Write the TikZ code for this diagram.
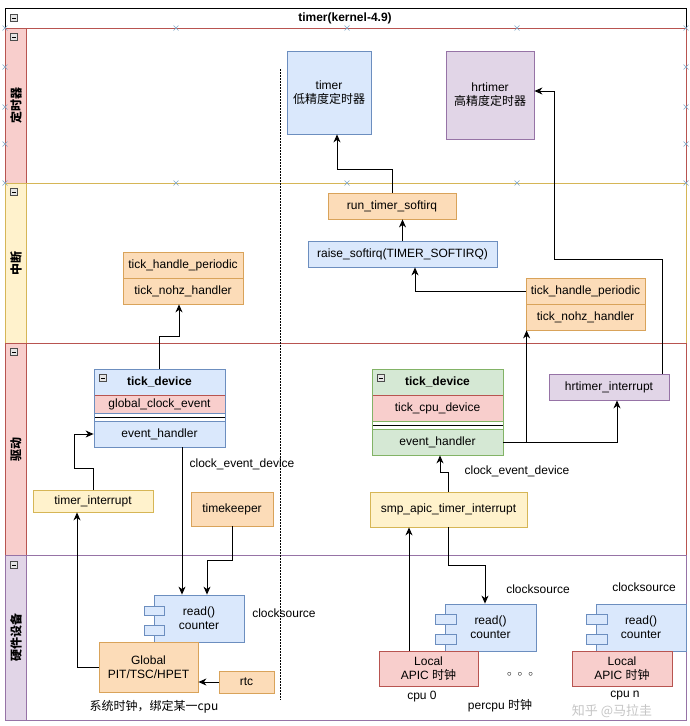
\documentclass[tikz,border=0pt]{standalone}
\usepackage{fontspec}
\setmainfont{Liberation Sans}
\newfontfamily\cjk{Noto Sans CJK SC}
\usetikzlibrary{arrows.meta}
\definecolor{pinkF}{HTML}{F8CECC}\definecolor{pinkS}{HTML}{B85450}
\definecolor{yelF}{HTML}{FFF2CC}\definecolor{yelS}{HTML}{D6B656}
\definecolor{purF}{HTML}{E1D5E7}\definecolor{purS}{HTML}{9673A6}
\definecolor{bluF}{HTML}{DAE8FC}\definecolor{bluS}{HTML}{6C8EBF}
\definecolor{grnF}{HTML}{D5E8D4}\definecolor{grnS}{HTML}{82B366}
\definecolor{orgF}{HTML}{FCDCB8}\definecolor{orgS}{HTML}{D9A35A}
\definecolor{selX}{HTML}{7FA8C8}
\newcommand\mnus[2]{\draw[gray!60!black, fill=gray!20, line width=0.4pt] (#1-3.5,#2-3.5) rectangle (#1+3.5,#2+3.5); \draw[line width=0.6pt] (#1-2,#2) -- (#1+2,#2);}
\newcommand\selx[2]{\draw[selX, line width=0.5pt] (#1-2.5,#2-2.5) -- (#1+2.5,#2+2.5) (#1-2.5,#2+2.5) -- (#1+2.5,#2-2.5);}
\tikzset{
  fnt/.style={font=\fontsize{12}{14}\selectfont},
  bfnt/.style={font=\fontsize{12}{14}\selectfont\bfseries},
  base/.style={draw, line width=0.8pt, inner sep=0pt, align=center, fnt},
  bluebox/.style={base, fill=bluF, draw=bluS},
  pinkbox/.style={base, fill=pinkF, draw=pinkS},
  yelbox/.style={base, fill=yelF, draw=yelS},
  purbox/.style={base, fill=purF, draw=purS},
  grnbox/.style={base, fill=grnF, draw=grnS},
  orgbox/.style={base, fill=orgF, draw=orgS},
  txt/.style={inner sep=0pt, align=center, fnt},
  lanelab/.style={inner sep=0pt, rotate=90, font=\fontsize{12}{14}\selectfont\cjk\bfseries},
  arr/.style={line width=1pt, -{Stealth[length=8pt,width=7pt,inset=2.5pt]}},
}
\begin{document}
\begin{tikzpicture}[x=1pt,y=-1pt]
\useasboundingbox (0,0) rectangle (690,726);
\fill[white] (0,0) rectangle (690,726);
% pool
\draw[black, line width=1pt] (5,8) rectangle (686,720);
\node[bfnt, inner sep=0pt] (title) at (345,18) {timer(kernel-4.9)};
\mnus{14}{18}
% lanes
\fill[pinkF] (5,28) rectangle (26,183);
\draw[pinkS, line width=0.8pt] (5,28) rectangle (686,183) (26,28) -- (26,183);
\fill[yelF] (5,183) rectangle (26,343);
\draw[yelS, line width=0.8pt] (5,183) rectangle (686,343) (26,183) -- (26,343);
\fill[pinkF] (5,343) rectangle (26,555);
\draw[pinkS, line width=0.8pt] (5,343) rectangle (686,555) (26,343) -- (26,555);
\fill[purF] (5,555) rectangle (26,720);
\draw[purS, line width=0.8pt] (5,555) rectangle (686,720) (26,555) -- (26,720);
\node[lanelab] (l1) at (16,105) {定时器};
\node[lanelab] (l2) at (16,263) {中断};
\node[lanelab] (l3) at (16,449) {驱动};
\node[lanelab] (l4) at (16,637) {硬件设备};
\mnus{14}{37}\mnus{14}{192}\mnus{14}{352}\mnus{14}{565}
% selection marks
\selx{5}{28}\selx{176}{28}\selx{347}{28}\selx{517}{28}\selx{686}{28}
\selx{5}{67}\selx{5}{107}\selx{5}{144}\selx{5}{183}
\selx{686}{67}\selx{686}{107}\selx{686}{144}\selx{686}{183}
\selx{176}{183}\selx{347}{183}\selx{517}{183}
% dotted divider
\draw[line width=0.8pt, dash pattern=on 1.5pt off 1.5pt] (280,69) -- (280,700);
% timers
\node[bluebox, minimum width=84pt, minimum height=83pt] (timer) at (329,92.5) {timer\\{\cjk 低精度定时器}};
\node[purbox, minimum width=88pt, minimum height=88pt] (hrtimer) at (490,95) {hrtimer\\{\cjk 高精度定时器}};
% interrupt lane
\node[orgbox, minimum width=128pt, minimum height=26pt] (runsoft) at (392,206) {run\_timer\_softirq};
\node[bluebox, minimum width=189pt, minimum height=26pt] (raise) at (402.5,254) {raise\_softirq(TIMER\_SOFTIRQ)};
\node[orgbox, minimum width=119pt, minimum height=26pt] (rthp) at (585.5,291) {tick\_handle\_periodic};
\node[orgbox, minimum width=119pt, minimum height=26pt] (rnohz) at (585.5,317) {tick\_nohz\_handler};
\node[orgbox, minimum width=120pt, minimum height=26pt] (lthp) at (183,265) {tick\_handle\_periodic};
\node[orgbox, minimum width=120pt, minimum height=26pt] (lnohz) at (183,291) {tick\_nohz\_handler};
% left tick_device
\node[bluebox, bfnt, minimum width=131pt, minimum height=26pt] (ltd) at (159.5,382) {tick\_device};
\node[pinkbox, minimum width=131pt, minimum height=18pt] (lgce) at (159.5,404) {global\_clock\_event};
\draw[bluS, fill=white, line width=0.8pt] (94,413) rectangle (225,421);
\draw[line width=1pt] (94,417) -- (225,417);
\node[bluebox, minimum width=131pt, minimum height=26pt] (leh) at (159.5,434) {event\_handler};
\draw[bluS, line width=0.8pt] (94,369) rectangle (225,447);
\mnus{103}{378}
% right tick_device
\node[grnbox, bfnt, minimum width=131pt, minimum height=26pt] (rtd) at (437.5,382) {tick\_device};
\node[pinkbox, minimum width=131pt, minimum height=26pt] (rtcd) at (437.5,408) {tick\_cpu\_device};
\draw[grnS, fill=white, line width=0.8pt] (372,421) rectangle (503,429);
\draw[line width=1pt] (372,425) -- (503,425);
\node[grnbox, minimum width=131pt, minimum height=26pt] (reh) at (437.5,442) {event\_handler};
\draw[grnS, line width=0.8pt] (372,369) rectangle (503,455);
\mnus{381}{378}
\node[purbox, minimum width=120pt, minimum height=26pt] (hrint) at (609,387) {hrtimer\_interrupt};
% driver lane others
\node[yelbox, minimum width=120pt, minimum height=22pt] (tint) at (93,501) {timer\_interrupt};
\node[orgbox, minimum width=82pt, minimum height=34pt] (tk) at (232,509) {timekeeper};
\node[yelbox, minimum width=157pt, minimum height=35pt] (smp) at (448.5,509.5) {smp\_apic\_timer\_interrupt};
\node[txt] (cedl) at (242,464) {clock\_event\_device};
\node[txt] (cedr) at (517,471) {clock\_event\_device};
% hardware: left
\node[bluebox, minimum width=90pt, minimum height=47pt] (lcs) at (199,618.5) {read()\\counter};
\draw[bluS, fill=bluF, line width=0.8pt] (144,606) rectangle (164,615) (144,625) rectangle (164,635);
\node[orgbox, minimum width=99pt, minimum height=50pt] (gpit) at (148.5,667) {Global\\PIT/TSC/HPET};
\node[orgbox, minimum width=55pt, minimum height=22pt] (rtc) at (246.5,682) {rtc};
\node[txt] (lcsl) at (284,613) {clocksource};
\node[txt, font=\fontsize{12}{14}\selectfont\cjk] (sysl) at (154,707) {系统时钟，绑定某一cpu};
% hardware: right
\node[bluebox, minimum width=91pt, minimum height=47pt] (rcs1) at (490.5,627.5) {read()\\counter};
\draw[bluS, fill=bluF, line width=0.8pt] (435,614) rectangle (456,624) (435,634) rectangle (456,644);
\node[pinkbox, minimum width=99pt, minimum height=35pt] (apic0) at (428.5,668.5) {Local\\APIC {\cjk 时钟}};
\node[bluebox, minimum width=90pt, minimum height=47pt] (rcs2) at (641,627.5) {read()\\counter};
\draw[bluS, fill=bluF, line width=0.8pt] (586,614) rectangle (607,624) (586,634) rectangle (607,644);
\node[pinkbox, minimum width=100pt, minimum height=35pt] (apicn) at (622,668.5) {Local\\APIC {\cjk 时钟}};
\node[txt] (rcsl1) at (538,589) {clocksource};
\node[txt] (rcsl2) at (644,587) {clocksource};
\node[txt] (cpu0) at (422,697) {cpu 0};
\node[txt] (pcpu) at (500,706) {percpu {\cjk 时钟}};
\node[txt, font=\fontsize{9}{10}\selectfont] (dots) at (520,674) {$\circ$\hspace{6pt}$\circ$\hspace{6pt}$\circ$};
\node[txt] (cpun) at (625,696) {cpu n};
\node[inner sep=0pt, text=gray, opacity=0.45, font=\fontsize{13}{14}\selectfont\cjk] (wm) at (612,711) {知乎 @马拉圭};
% connectors
\draw[arr] (runsoft.north) -- ++(0,-23) -| ([xshift=8pt]timer.south);
\draw[arr] (raise.north) -- (raise.north |- runsoft.south);
\draw[arr] (rthp.west) -| ([xshift=12.5pt]raise.south);
\draw[arr] ([xshift=53pt]hrint.north) -- ++(0,-114) -- ++(-108,0) |- ([yshift=4pt]hrtimer.east);
\draw[arr] (reh.east) -| ([xshift=8pt]hrint.south);
\draw[arr] ([xshift=1pt]rnohz.south west |- reh.east) -- ([xshift=1pt]rnohz.south west);
\draw[arr] (smp.north) -- ++(0,-19) -| ([xshift=2.5pt]reh.south);
\draw[arr] (smp.south) -- ++(0,38) -| ([xshift=-5.5pt]rcs1.north);
\draw[arr] ([xshift=-19.5pt]apic0.north) -- ([xshift=-19.5pt]apic0.north |- smp.south);
\draw[arr] (ltd.north) -- ++(0,-32) -| ([xshift=-4pt]lnohz.south);
\draw[arr] (tint.north) -- ++(0,-21) -- ++(-19,0) |- (leh.west);
\draw[arr] (gpit.west) -| ([xshift=-16pt]tint.south);
\draw[arr] ([xshift=22.5pt]leh.south) -- ([xshift=22.5pt]leh.south |- lcs.north);
\draw[arr] (tk.south) -- ++(0,34) -| ([xshift=8pt]lcs.north);
\draw[arr] (rtc.west) -- (rtc.west -| gpit.east);
\end{tikzpicture}
\end{document}
